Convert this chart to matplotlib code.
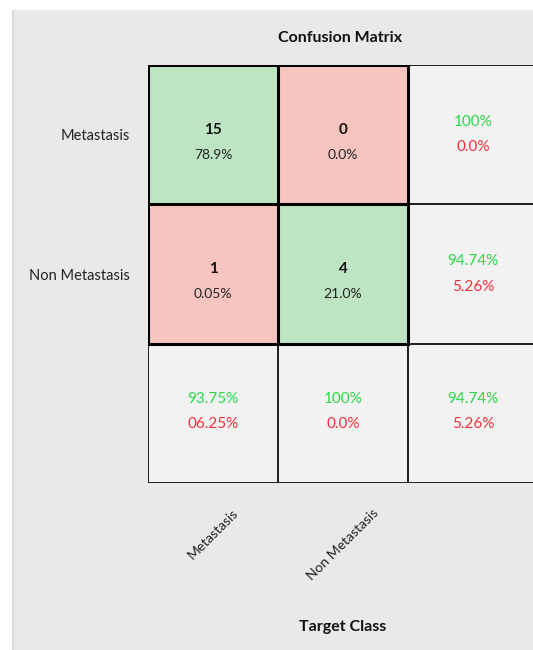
import matplotlib
matplotlib.use("Agg")
import matplotlib.pyplot as plt
from matplotlib.colors import ListedColormap
from matplotlib.patches import Rectangle
import numpy as np

# ---- data ----
classes = ["Metastasis", "Non Metastasis"]
counts = [[15, 0], [1, 4]]
cell_pcts = [["78.9%", "0.0%"], ["0.05%", "21.0%"]]
row_good = ["100%", "94.74%"]
row_bad = ["0.0%", "5.26%"]
col_good = ["93.75%", "100%"]
col_bad = ["06.25%", "0.0%"]
total_good = "94.74%"
total_bad = "5.26%"
title = "Confusion Matrix"
xlabel = "Target Class"

FONT = ["Lato", "DejaVu Sans"]
plt.rcParams["font.family"] = FONT

W, H = 533, 650
fig = plt.figure(figsize=(W / 100, H / 100), dpi=100)
fig.patch.set_facecolor("white")

# grey panel background
fig.patches.append(Rectangle((12 / W, 0), 1 - 12 / W, 1 - 10 / H, transform=fig.transFigure,
                             facecolor="#e9e9e9", edgecolor="none", zorder=-10))
fig.patches.append(Rectangle((12 / W, 0), 2 / W, 1 - 10 / H, transform=fig.transFigure,
                             facecolor="#d9d9d9", edgecolor="none", zorder=-10))

n = len(classes)
left_px, top_px, bottom_px = 148, 65, 483
cw = 130.0
ncols_visible = (W - left_px) / cw
ax = fig.add_axes([left_px / W, 1 - bottom_px / H, (W - left_px) / W, (bottom_px - top_px) / H])
ax.set_facecolor("none")
ax.set_zorder(5)

# category grid: 0 correct, 1 wrong, 2 summary
cat = np.full((n + 1, n + 1), 2)
for i in range(n):
    for j in range(n):
        cat[i, j] = 0 if i == j else 1
cmap = ListedColormap(["#bde5c3", "#f7c4c0", "#f2f2f2"])
ax.pcolormesh(np.arange(n + 2), np.arange(n + 2), cat, cmap=cmap, vmin=-0.5, vmax=2.5,
              edgecolors="#222222", linewidth=1.3)
ax.set_xlim(0, ncols_visible)
ax.set_ylim(n + 1, 0)

# thick borders around the confusion block
for k in range(n + 1):
    ax.plot([k, k], [0, n], color="black", lw=2.2, solid_capstyle="projecting")
    ax.plot([0, n], [k, k], color="black", lw=2.2, solid_capstyle="projecting")

green = "#2ad845"
red = "#f22f3a"
for i in range(n):
    for j in range(n):
        ax.text(j + 0.5, i + 0.467, str(counts[i][j]), ha="center", va="center",
                fontsize=11, fontweight="bold", color="#111111")
        ax.text(j + 0.5, i + 0.646, cell_pcts[i][j], ha="center", va="center",
                fontsize=10, color="#222222")
    ax.text(n + 0.5, i + 0.41, row_good[i], ha="center", va="center", fontsize=11, color=green)
    ax.text(n + 0.5, i + 0.59, row_bad[i], ha="center", va="center", fontsize=11, color=red)
for j in range(n):
    ax.text(j + 0.5, n + 0.40, col_good[j], ha="center", va="center", fontsize=11, color=green)
    ax.text(j + 0.5, n + 0.58, col_bad[j], ha="center", va="center", fontsize=11, color=red)
ax.text(n + 0.5, n + 0.40, total_good, ha="center", va="center", fontsize=11, color=green)
ax.text(n + 0.5, n + 0.58, total_bad, ha="center", va="center", fontsize=11, color=red)

ax.set_yticks(np.arange(n) + 0.5)
ax.set_yticklabels(classes, fontsize=10.5, color="#222222")
ax.set_xticks(np.arange(n) + 0.5)
ax.set_xticklabels(classes, fontsize=10, color="#222222", rotation=45, ha="center", va="top")
ax.tick_params(axis="y", length=0, pad=13)
ax.tick_params(axis="x", length=0, pad=17)
for s in ax.spines.values():
    s.set_visible(False)

fig.text(340 / W, 1 - 38 / H, title, ha="center", va="center", fontsize=11.5,
         fontweight="bold", color="#111111")
fig.text(343 / W, 1 - 627 / H, xlabel, ha="center", va="center", fontsize=11.5,
         fontweight="bold", color="#111111")

fig.savefig("out.png", dpi=100)
